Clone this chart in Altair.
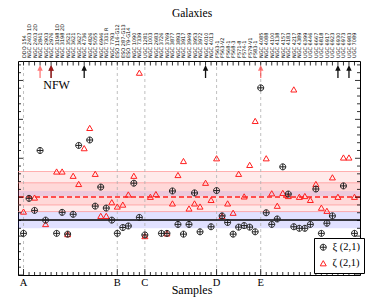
import altair as alt
import pandas as pd

# ---------------- data ----------------
galaxies = [
    "DDO 154", "NGC 2403 1D", "NGC 2403 2D", "NGC 2841", "NGC 2903", "NGC 2976",
    "NGC 3198 1D", "NGC 3198 2D", "NGC 3521", "NGC 3621", "NGC 3627", "NGC 4736",
    "NGC 4826", "NGC 5055", "NGC 6946", "NGC 7331 R", "NGC 7793",
    "ESO 116-G12", "ESO 287-G13", "ESO 79-G14", "NGC 1090", "NGC 7339",
    "UGC 1281", "NGC 1003", "NGC 2683", "NGC 3726", "NGC 3769", "NGC 3877",
    "NGC 3893", "NGC 3917", "NGC 3949", "NGC 3953", "NGC 3972", "NGC 4010", "NGC 4013",
    "F563-1", "F563-V2", "F568-1", "F568-3", "F571-8", "F574-1", "F579-V1", "F583-1",
    "NGC 4085", "NGC 4088", "NGC 4100", "NGC 4138", "NGC 4157", "NGC 4183", "NGC 4217",
    "NGC 4389", "UGC 6399", "UGC 6446", "UGC 6667", "UGC 6818", "UGC 6917", "UGC 6923",
    "UGC 6930", "UGC 6973", "UGC 6983", "UGC 7089",
]

xi = [1.07, 1.97, 1.66, 3.20, 1.41, None, 1.07, 1.61, 1.05, 1.56,
      3.33, None, 3.47, 1.77, 2.26, 1.72, 1.41, 1.07, 1.22, 1.26,
      2.36, 1.48, 1.03, None, None, 1.07, 1.07, 2.16, 1.30, 1.05,
      1.30, 2.11, 1.11, None, 1.24, 2.17, 1.52, 1.35, 1.05, 1.23,
      1.27, 1.23, 1.11, 4.81, 1.60, 1.30, 1.44, 2.78, 2.08, 1.24,
      1.20, 1.20, 1.30, 2.21, 1.07, 1.33, 1.52, None, 2.29, None, 1.07]

zeta = [1.63, None, 1.99, None, 1.31, None, 2.66, 2.66, 1.05, 2.55,
        2.34, 3.26, 3.78, 2.60, 1.52, 1.52, 1.87, 1.76, 1.81, 2.07,
        2.55, 5.20, 1.00, 2.01, 2.08, None, 1.07, 1.84, 2.57, 2.93,
        1.71, 1.84, 1.76, 2.37, 1.93, 3.00, 1.52, 1.84, 1.60, 2.60,
        2.02, 2.83, 3.96, None, 3.00, 2.10, 1.78, 2.11, 2.03, 4.77,
        2.01, 2.03, 1.93, 2.34, 1.73, 1.65, 2.51, 2.01, 3.02, 3.02, 2.01]

xi_up = [5, 11, 33, 57, 59]        # NFW: xi off the chart
zeta_up = [3, 5, 43]               # NFW: zeta off the chart

sample_names = ["A", "B", "C", "D", "E"]
sample_start = [0, 17, 22, 35, 43]

xi_mean = 1.414
zeta_mean = 2.005
band_lo = [1.63, 1.80, 1.20, 2.03]
band_hi = [2.66, 2.37, 1.63, 2.16]
band_col = ["#ff3030", "#ff3030", "#3535ff", "#5050ff"]
band_op = [0.10, 0.09, 0.15, 0.11]
edge_vals = [2.66, 2.37, 1.80, 1.63]

XI = "ξ (2,1)"
ZETA = "ζ (2,1)"
SERIF = "Liberation Serif"

# ---------------- geometry ----------------
W, H = 342, 214
xs = alt.Scale(domain=[-1, 61], nice=False, zero=False)
ys = alt.Scale(domain=[0, 5.5], nice=False, zero=False)

CIRCPLUS = "M-1,0A1,1,0,1,1,1,0A1,1,0,1,1,-1,0ZM-1,0L1,0M0,-1L0,1"
ARROW = "M0,-1L0.42,-0.12L0.1,-0.12L0.1,1L-0.1,1L-0.1,-0.12L-0.42,-0.12Z"

# ---------------- tables ----------------
rows = []
for i, v in enumerate(zeta):
    if v is not None:
        rows.append({"i": i, "v": v, "s": ZETA})
for i, v in enumerate(xi):
    if v is not None:
        rows.append({"i": i, "v": v, "s": XI})
pts_df = pd.DataFrame(rows)

gal_df = pd.DataFrame({"i": list(range(len(galaxies))), "name": galaxies})
samp_df = pd.DataFrame({"i": sample_start, "lab": sample_names})
minor_idx = [i for i in range(len(galaxies)) if i not in sample_start]
minor_df = pd.DataFrame({"i": minor_idx})

bands_df = pd.DataFrame({"lo": band_lo, "hi": band_hi, "c": band_col, "o": band_op})
edge_df = pd.DataFrame({"v": edge_vals})

yt = [round(0.2 * k, 1) for k in range(0, 28)]
ymaj_df = pd.DataFrame({"v": [v for v in yt if abs(v - round(v)) < 1e-9]})
ymin_df = pd.DataFrame({"v": [v for v in yt if abs(v - round(v)) > 1e-9]})

X = alt.X("i:Q", scale=xs, axis=None)

bands = alt.Chart(bands_df).mark_rect().encode(
    y=alt.Y("lo:Q", scale=ys, axis=None), y2="hi:Q",
    x=alt.value(0), x2=alt.value(W),
    fill=alt.Fill("c:N", scale=None), opacity=alt.Opacity("o:Q", scale=None))

edges = alt.Chart(edge_df).mark_rule(color="#ff9090", strokeWidth=0.7).encode(
    y=alt.Y("v:Q", scale=ys, axis=None))

vlines = alt.Chart(samp_df).mark_rule(color="#b0b0b0", strokeWidth=0.8, strokeDash=[3, 3]).encode(x=X)

xi_line = alt.Chart(pd.DataFrame({"v": [xi_mean]})).mark_rule(color="black", strokeWidth=1.3).encode(
    y=alt.Y("v:Q", scale=ys, axis=None))
zeta_line = alt.Chart(pd.DataFrame({"v": [zeta_mean]})).mark_rule(
    color="#ff2020", strokeWidth=1.3, strokeDash=[5, 3]).encode(y=alt.Y("v:Q", scale=ys, axis=None))

legend = alt.Legend(title=None, orient="none", legendX=296, legendY=177, fillColor="white",
                    strokeColor="black", padding=4, labelFont=SERIF, labelFontSize=10.5,
                    symbolSize=36, symbolStrokeWidth=1, rowPadding=5, labelOffset=4,
                    labelColor="black")

pts = alt.Chart(pts_df).mark_point(filled=False, size=36, strokeWidth=1, opacity=1).encode(
    x=X,
    y=alt.Y("v:Q", scale=ys,
            axis=alt.Axis(orient="right", values=[0, 1, 2, 3, 4, 5], ticks=False, domain=False,
                          grid=False, labelFont=SERIF, labelFontSize=10.5, labelPadding=1,
                          labelColor="black", title=None)),
    shape=alt.Shape("s:N", scale=alt.Scale(domain=[XI, ZETA], range=[CIRCPLUS, "triangle-up"]),
                    legend=legend),
    color=alt.Color("s:N", scale=alt.Scale(domain=[XI, ZETA], range=["#222222", "#ff2020"]),
                    legend=legend),
)

arrow_y = 5.23
xi_arr = alt.Chart(pd.DataFrame({"i": xi_up, "v": [arrow_y] * len(xi_up)})).mark_point(
    shape=ARROW, filled=True, size=169, color="#111111", opacity=1).encode(
    x=X, y=alt.Y("v:Q", scale=ys, axis=None))
zeta_arr = alt.Chart(pd.DataFrame({"i": zeta_up, "v": [arrow_y] * len(zeta_up)})).mark_point(
    shape=ARROW, filled=True, size=169, color="#ff2020", opacity=0.6).encode(
    x=X, y=alt.Y("v:Q", scale=ys, axis=None))

nfw = alt.Chart(pd.DataFrame({"i": [6], "v": [4.88], "t": ["NFW"]})).mark_text(
    font=SERIF, fontSize=12, color="black").encode(x=X, y=alt.Y("v:Q", scale=ys, axis=None), text="t:N")

# ticks (inward)
lmaj = alt.Chart(ymaj_df).mark_rule(color="black", strokeWidth=0.8).encode(
    y=alt.Y("v:Q", scale=ys, axis=None), x=alt.value(0), x2=alt.value(5))
lmin = alt.Chart(ymin_df).mark_rule(color="black", strokeWidth=0.8).encode(
    y=alt.Y("v:Q", scale=ys, axis=None), x=alt.value(0), x2=alt.value(3))
rmaj = alt.Chart(ymaj_df).mark_rule(color="black", strokeWidth=0.8).encode(
    y=alt.Y("v:Q", scale=ys, axis=None), x=alt.value(W - 5), x2=alt.value(W))
rmin = alt.Chart(ymin_df).mark_rule(color="black", strokeWidth=0.8).encode(
    y=alt.Y("v:Q", scale=ys, axis=None), x=alt.value(W - 3), x2=alt.value(W))
tticks = alt.Chart(gal_df).mark_rule(color="black", strokeWidth=0.8).encode(
    x=X, y=alt.value(0), y2=alt.value(4.5))
bmin = alt.Chart(minor_df).mark_rule(color="black", strokeWidth=0.8).encode(
    x=X, y=alt.value(H - 3), y2=alt.value(H))
bmaj = alt.Chart(samp_df).mark_rule(color="black", strokeWidth=0.8).encode(
    x=X, y=alt.value(H - 6), y2=alt.value(H))

gal_text = alt.Chart(gal_df).mark_text(angle=270, align="left", baseline="middle", fontSize=5,
                                       font="DejaVu Sans", color="black").encode(
    x=X, y=alt.value(-3), text="name:N")
samp_text = alt.Chart(samp_df).mark_text(font=SERIF, fontSize=10.5, baseline="middle", color="black").encode(
    x=X, y=alt.value(H + 8), text="lab:N")
t_bottom = alt.Chart(pd.DataFrame({"t": ["Samples"]})).mark_text(
    font=SERIF, fontSize=12, baseline="alphabetic", color="black").encode(
    x=alt.value(174), y=alt.value(H + 19), text="t:N")
t_top = alt.Chart(pd.DataFrame({"t": ["Galaxies"]})).mark_text(
    font=SERIF, fontSize=11.5, baseline="top", color="black").encode(
    x=alt.value(174), y=alt.value(-53), text="t:N")

chart = alt.layer(
    bands, edges, vlines, xi_line, zeta_line, pts, xi_arr, zeta_arr, nfw,
    lmaj, lmin, rmaj, rmin, tticks, bmin, bmaj, gal_text, samp_text, t_bottom, t_top,
).properties(
    width=W, height=H,
    autosize=alt.AutoSizeParams(type="none"),
    padding={"left": 10, "top": 53, "right": 6, "bottom": 23},
    background="white",
).configure_view(stroke="black", strokeWidth=1)

chart.save("out.html", embed_options={"renderer": "svg", "actions": False})
